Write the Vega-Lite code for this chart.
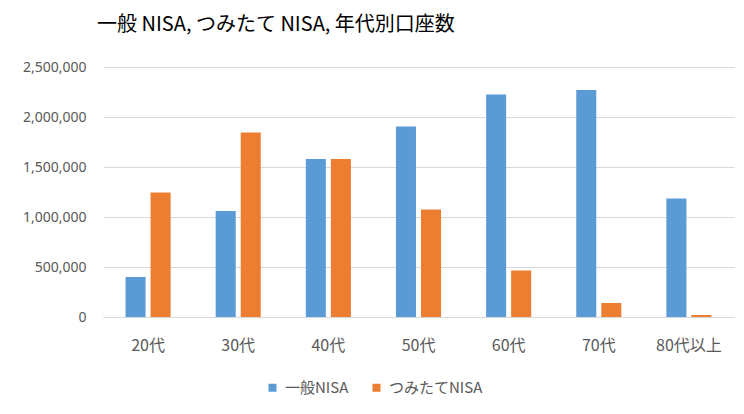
{
  "$schema": "https://vega.github.io/schema/vega-lite/v6.json",
  "autosize": {"type": "none"},
  "padding": {"left": 103, "top": 67, "right": 10, "bottom": 97},
  "width": 631,
  "height": 250,
  "background": "white",
  "title": {
    "text": "一般 NISA, つみたて NISA, 年代別口座数",
    "anchor": "start",
    "frame": "group",
    "dx": -6,
    "offset": 25,
    "fontSize": 20,
    "fontWeight": "normal",
    "font": "Noto Sans CJK JP",
    "color": "#000000"
  },
  "data": {
    "values": [
      {"age": "20代", "type": "一般NISA", "count": 400000},
      {"age": "20代", "type": "つみたてNISA", "count": 1244000},
      {"age": "30代", "type": "一般NISA", "count": 1060000},
      {"age": "30代", "type": "つみたてNISA", "count": 1844000},
      {"age": "40代", "type": "一般NISA", "count": 1580000},
      {"age": "40代", "type": "つみたてNISA", "count": 1580000},
      {"age": "50代", "type": "一般NISA", "count": 1904000},
      {"age": "50代", "type": "つみたてNISA", "count": 1074000},
      {"age": "60代", "type": "一般NISA", "count": 2224000},
      {"age": "60代", "type": "つみたてNISA", "count": 464000},
      {"age": "70代", "type": "一般NISA", "count": 2270000},
      {"age": "70代", "type": "つみたてNISA", "count": 140000},
      {"age": "80代以上", "type": "一般NISA", "count": 1184000},
      {"age": "80代以上", "type": "つみたてNISA", "count": 20000}
    ]
  },
  "mark": {"type": "bar"},
  "encoding": {
    "x": {
      "field": "age",
      "type": "nominal",
      "sort": null,
      "scale": {"paddingInner": 0.5, "paddingOuter": 0.25},
      "axis": {
        "title": null,
        "labelAngle": 0,
        "ticks": false,
        "domain": true,
        "domainColor": "#d9d9d9",
        "labelPadding": 20,
        "labelFontSize": 16,
        "labelColor": "#595959",
        "labelFont": "Noto Sans CJK JP"
      }
    },
    "xOffset": {
      "field": "type",
      "type": "nominal",
      "sort": ["一般NISA", "つみたてNISA"],
      "scale": {"paddingInner": 0.2}
    },
    "y": {
      "field": "count",
      "type": "quantitative",
      "scale": {"domain": [0, 2500000], "nice": false},
      "axis": {
        "title": null,
        "values": [0, 500000, 1000000, 1500000, 2000000, 2500000],
        "format": ",.0f",
        "ticks": false,
        "domain": false,
        "grid": true,
        "gridColor": "#d9d9d9",
        "labelPadding": 17,
        "labelFontSize": 14,
        "labelColor": "#595959",
        "labelFont": "Noto Sans"
      }
    },
    "color": {
      "field": "type",
      "type": "nominal",
      "sort": ["一般NISA", "つみたてNISA"],
      "scale": {"domain": ["一般NISA", "つみたてNISA"], "range": ["#5B9BD5", "#ED7D31"]},
      "legend": {
        "title": null,
        "orient": "none",
        "legendX": 162,
        "legendY": 313,
        "direction": "horizontal",
        "symbolType": "square",
        "symbolSize": 64,
        "symbolStrokeWidth": 0,
        "labelFontSize": 15,
        "labelColor": "#595959",
        "labelFont": "Noto Sans CJK JP",
        "labelOffset": 5,
        "columnPadding": 20
      }
    }
  },
  "config": {"view": {"stroke": null}}
}
